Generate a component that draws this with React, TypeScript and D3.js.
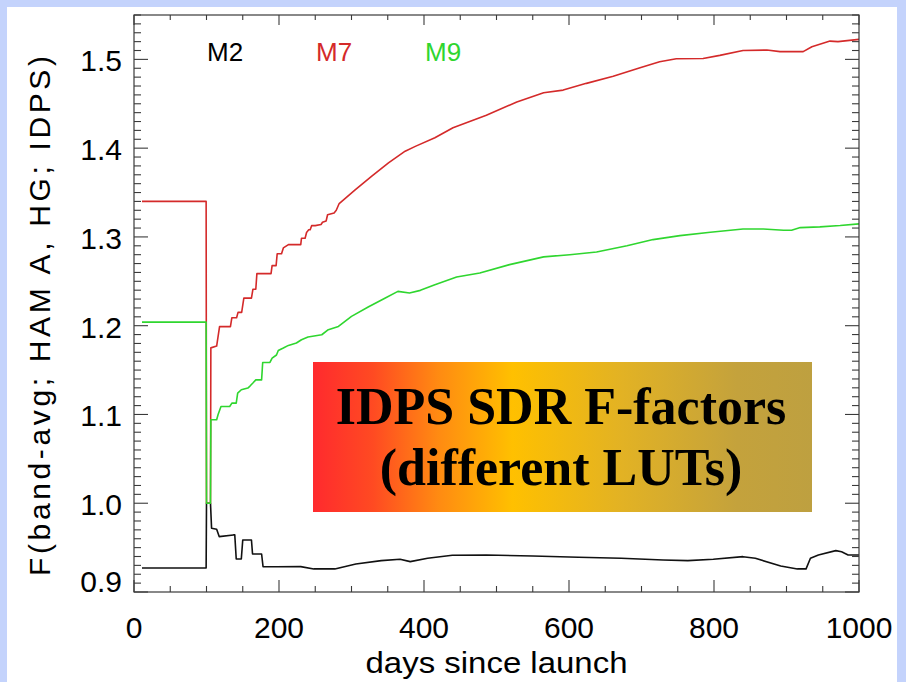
import React from "react";
import * as d3 from "d3";

// F-factor time series for three VIIRS bands: [days since launch, F]
const m2Points: [number, number][] = [
  [11, 0.927], [99.5, 0.927], [100, 1.0], [105.5, 1.0], [107, 0.9718], [114, 0.9707],
  [117.5, 0.9624], [137, 0.9643], [139, 0.9643], [141, 0.9372], [148, 0.9372],
  [150, 0.9586], [162, 0.9586], [163.5, 0.9428], [176, 0.9428], [178, 0.9285],
  [197, 0.9285], [230, 0.9286], [248, 0.926], [277, 0.926], [306, 0.9316],
  [341, 0.9353], [367, 0.9369], [381, 0.9342], [405, 0.938], [439, 0.9414],
  [486, 0.9417], [550, 0.9406], [613, 0.9391], [672, 0.938], [730, 0.936],
  [764, 0.9353], [799, 0.9369], [840, 0.9398], [857, 0.938], [892, 0.9293],
  [915, 0.926], [927, 0.926], [933, 0.938], [944, 0.9417], [968, 0.9466],
  [976, 0.9454], [985, 0.9417], [1000, 0.9417],
];

const m7Points: [number, number][] = [
  [11, 1.34], [99.5, 1.34], [100, 1.0], [105.5, 1.0], [106, 1.175], [114, 1.177],
  [118, 1.199], [133, 1.199], [135, 1.209], [141.5, 1.209], [143.5, 1.215],
  [148.5, 1.215], [151.5, 1.231], [162, 1.231], [164, 1.241], [168, 1.241],
  [169.5, 1.2586], [189, 1.2586], [190.5, 1.2677], [196, 1.2677], [197.5, 1.281],
  [203.5, 1.281], [206, 1.2876], [213, 1.2913], [230, 1.2913], [231, 1.2985],
  [236, 1.2985], [238, 1.305], [241, 1.308], [243, 1.308], [245, 1.3127],
  [250, 1.3127], [258, 1.314], [260, 1.3165], [265, 1.318], [267, 1.325],
  [276, 1.327], [279, 1.33], [283, 1.3376], [305, 1.353], [328, 1.3684],
  [351, 1.3835], [374, 1.3966], [388, 1.402], [415, 1.4117], [440, 1.423],
  [486, 1.437], [528, 1.452], [565, 1.4624], [592, 1.4654], [624, 1.473],
  [661, 1.481], [698, 1.4906], [725, 1.4974], [748, 1.5007], [785, 1.501],
  [808, 1.5045], [840, 1.51], [873, 1.5105], [891, 1.5087], [923, 1.5087],
  [935, 1.5143], [960, 1.5206], [971, 1.52], [987, 1.5214], [1000, 1.5225],
];

const m9Points: [number, number][] = [
  [11, 1.204], [99.5, 1.204], [100, 1.0], [105.5, 1.0], [106, 1.094], [114, 1.094],
  [116, 1.1], [120, 1.109], [132, 1.109], [135, 1.1128], [141, 1.1128],
  [143, 1.124], [148, 1.1278], [157, 1.1297], [160, 1.132], [164, 1.1354],
  [168, 1.139], [176, 1.139], [177.5, 1.1586], [187.5, 1.1586], [190.5, 1.1635],
  [196.5, 1.167], [199, 1.172], [206, 1.1748], [213, 1.1778], [224, 1.1805],
  [231, 1.1842], [240, 1.1872], [259, 1.1898], [268, 1.1955], [282, 1.1992],
  [300, 1.2105], [323, 1.221], [346, 1.231], [364, 1.2387], [380, 1.2369],
  [395, 1.2398], [415, 1.2462], [445, 1.2549], [477, 1.2594], [518, 1.2688],
  [565, 1.2775], [601, 1.28], [638, 1.283], [680, 1.29], [716, 1.297],
  [753, 1.3015], [795, 1.3052], [840, 1.309], [868, 1.309], [896, 1.3075],
  [907, 1.3075], [919, 1.3105], [946, 1.3113], [974, 1.3128], [1000, 1.3147],
];

const bandNames = ["M2", "M7", "M9"];
const bandColors = ["#111111", "#d42a2a", "#2fd62f"];
const xTicksMajor = [0, 200, 400, 600, 800, 1000];
const yTicksMajor = [0.9, 1.0, 1.1, 1.2, 1.3, 1.4, 1.5];
const xDomain: [number, number] = [0, 1000];
const yDomain: [number, number] = [0.9, 1.55];
const xTitle = "days since launch";
const yTitle = "F(band-avg; HAM A, HG; IDPS)";
const boxLines = ["IDPS SDR F-factors", "(different LUTs)"];

const W = 906;
const H = 682;
const plot = { left: 134, right: 859, top: 15, bottom: 592 };

export default function App() {
  const x = d3.scaleLinear().domain(xDomain).range([plot.left, plot.right]);
  const y = d3.scaleLinear().domain(yDomain).range([plot.bottom, plot.top]);
  const line = d3
    .line<[number, number]>()
    .x((d) => x(d[0]))
    .y((d) => y(d[1]));

  const xMinor = d3.range(0, 1000.001, 50);
  const yMinor = d3.range(0, 66).map((i) => +(0.9 + i * 0.01).toFixed(2)).filter((v) => v <= 1.55);
  const isMajorY = (v: number) => Math.abs(v * 10 - Math.round(v * 10)) < 1e-6;

  const series = [m2Points, m7Points, m9Points];
  const axisColor = "#3a3a3a";
  const sans = "'Liberation Sans', Arial, Helvetica, sans-serif";

  return (
    <svg
      width={W}
      height={H}
      viewBox={`0 0 ${W} ${H}`}
      style={{ position: "absolute", left: 0, top: 0, display: "block" }}
    >
      <defs>
        <linearGradient id="boxFill" x1="0" x2="1" y1="0" y2="0">
          <stop offset="0" stopColor="#ff2a2e" />
          <stop offset="0.12" stopColor="#ff4a22" />
          <stop offset="0.25" stopColor="#ff8a12" />
          <stop offset="0.4" stopColor="#ffc000" />
          <stop offset="0.62" stopColor="#e2b224" />
          <stop offset="0.85" stopColor="#c4a23c" />
          <stop offset="1" stopColor="#bea040" />
        </linearGradient>
      </defs>
      <rect x={0} y={0} width={W} height={H} fill="#c4d3fc" />
      <rect x={7} y={7} width={890} height={H - 7} fill="#ffffff" />

      {/* series */}
      {series.map((pts, i) => (
        <path
          key={bandNames[i]}
          d={line(pts) || ""}
          fill="none"
          stroke={bandColors[i]}
          strokeWidth={1.6}
          strokeLinejoin="round"
        />
      ))}

      {/* frame */}
      <rect
        x={plot.left}
        y={plot.top}
        width={plot.right - plot.left}
        height={plot.bottom - plot.top}
        fill="none"
        stroke={axisColor}
        strokeWidth={1.2}
      />

      {/* x ticks, bottom and top */}
      {xMinor.map((d) => {
        const major = d % 200 === 0;
        const px = x(d);
        return (
          <g key={`xt${d}`} stroke={axisColor} strokeWidth={1.1}>
            <line x1={px} x2={px} y1={plot.bottom} y2={plot.bottom - (major ? 12 : 6)} />
            <line x1={px} x2={px} y1={plot.top} y2={plot.top + (major ? 10 : 5)} />
          </g>
        );
      })}

      {/* y ticks, left and right */}
      {yMinor.map((v) => {
        const major = isMajorY(v);
        const py = y(v);
        return (
          <g key={`yt${v}`} stroke={axisColor} strokeWidth={1.1}>
            <line x1={plot.left} x2={plot.left + (major ? 14 : 7)} y1={py} y2={py} />
            <line x1={plot.right} x2={plot.right - (major ? 14 : 7)} y1={py} y2={py} />
          </g>
        );
      })}

      {/* tick labels */}
      {xTicksMajor.map((d) => (
        <text
          key={`xl${d}`}
          x={x(d)}
          y={638}
          textAnchor="middle"
          fontFamily={sans}
          fontSize={30}
          fill="#000"
        >
          {d}
        </text>
      ))}
      {yTicksMajor.map((v) => (
        <text
          key={`yl${v}`}
          x={plot.left - 12}
          y={v === yDomain[0] ? y(v) : y(v) + 12}
          textAnchor="end"
          fontFamily={sans}
          fontSize={30}
          fill="#000"
        >
          {v.toFixed(1)}
        </text>
      ))}

      {/* axis titles */}
      <text
        x={(plot.left + plot.right) / 2}
        y={673}
        textAnchor="middle"
        fontFamily={sans}
        fontSize={30}
        textLength={262}
        lengthAdjust="spacingAndGlyphs"
        fill="#000"
      >
        {xTitle}
      </text>
      <text
        transform={`translate(50, 316) rotate(-90)`}
        textAnchor="middle"
        fontFamily={sans}
        fontSize={30}
        textLength={520}
        lengthAdjust="spacing"
        fill="#000"
      >
        {yTitle}
      </text>

      {/* band labels */}
      {bandNames.map((name, i) => (
        <text
          key={`lg${name}`}
          x={207 + i * 109}
          y={61}
          fontFamily={sans}
          fontSize={26}
          fill={bandColors[i] === "#111111" ? "#000" : bandColors[i]}
        >
          {name}
        </text>
      ))}

      {/* annotation box */}
      <rect x={313} y={362} width={499} height={150} fill="url(#boxFill)" />
      {boxLines.map((t, i) => (
        <text
          key={`bx${i}`}
          x={561}
          y={424 + i * 61}
          textAnchor="middle"
          fontFamily="'Liberation Serif', 'Times New Roman', serif"
          fontWeight="bold"
          fontSize={52}
          fill="#000"
        >
          {t}
        </text>
      ))}
    </svg>
  );
}
